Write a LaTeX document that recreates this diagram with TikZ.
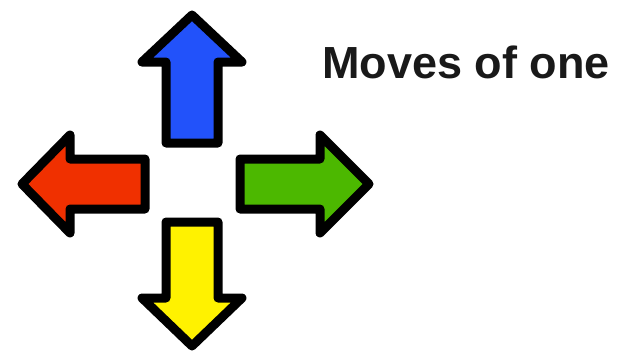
\documentclass[tikz,border=0pt]{standalone}
\usepackage{fontspec}
\setmainfont{Liberation Sans}
\begin{document}
\begin{tikzpicture}[x=1pt,y=-1pt,
  arrowshape/.style={draw=black,line width=9pt,line join=round},
  label/.style={inner sep=0pt,anchor=base west,font=\fontsize{45}{54}\selectfont\bfseries,text=black!90}]
\definecolor{ablue}{RGB}{34,82,250}
\definecolor{agreen}{RGB}{76,184,0}
\definecolor{ared}{RGB}{240,48,0}
\definecolor{ayellow}{RGB}{255,242,0}
\useasboundingbox[fill=white] (0,0) rectangle (618,359);
% up (blue)
\draw[arrowshape,fill=ablue] (192,15) -- (242,62) -- (218,62) -- (218,143) -- (166,143) -- (166,62) -- (142,62) -- cycle;
% down (yellow)
\draw[arrowshape,fill=ayellow] (192,346) -- (242,298) -- (218,298) -- (218,222) -- (166,222) -- (166,298) -- (142,298) -- cycle;
% left (red)
\draw[arrowshape,fill=ared] (22,184) -- (70,135) -- (70,159) -- (145,159) -- (145,209) -- (70,209) -- (70,233) -- cycle;
% right (green)
\draw[arrowshape,fill=agreen] (369,184) -- (320,135) -- (320,159) -- (240,159) -- (240,209) -- (320,209) -- (320,233) -- cycle;
\node[label] (t) at (322,78) {Moves of one};
\end{tikzpicture}
\end{document}
